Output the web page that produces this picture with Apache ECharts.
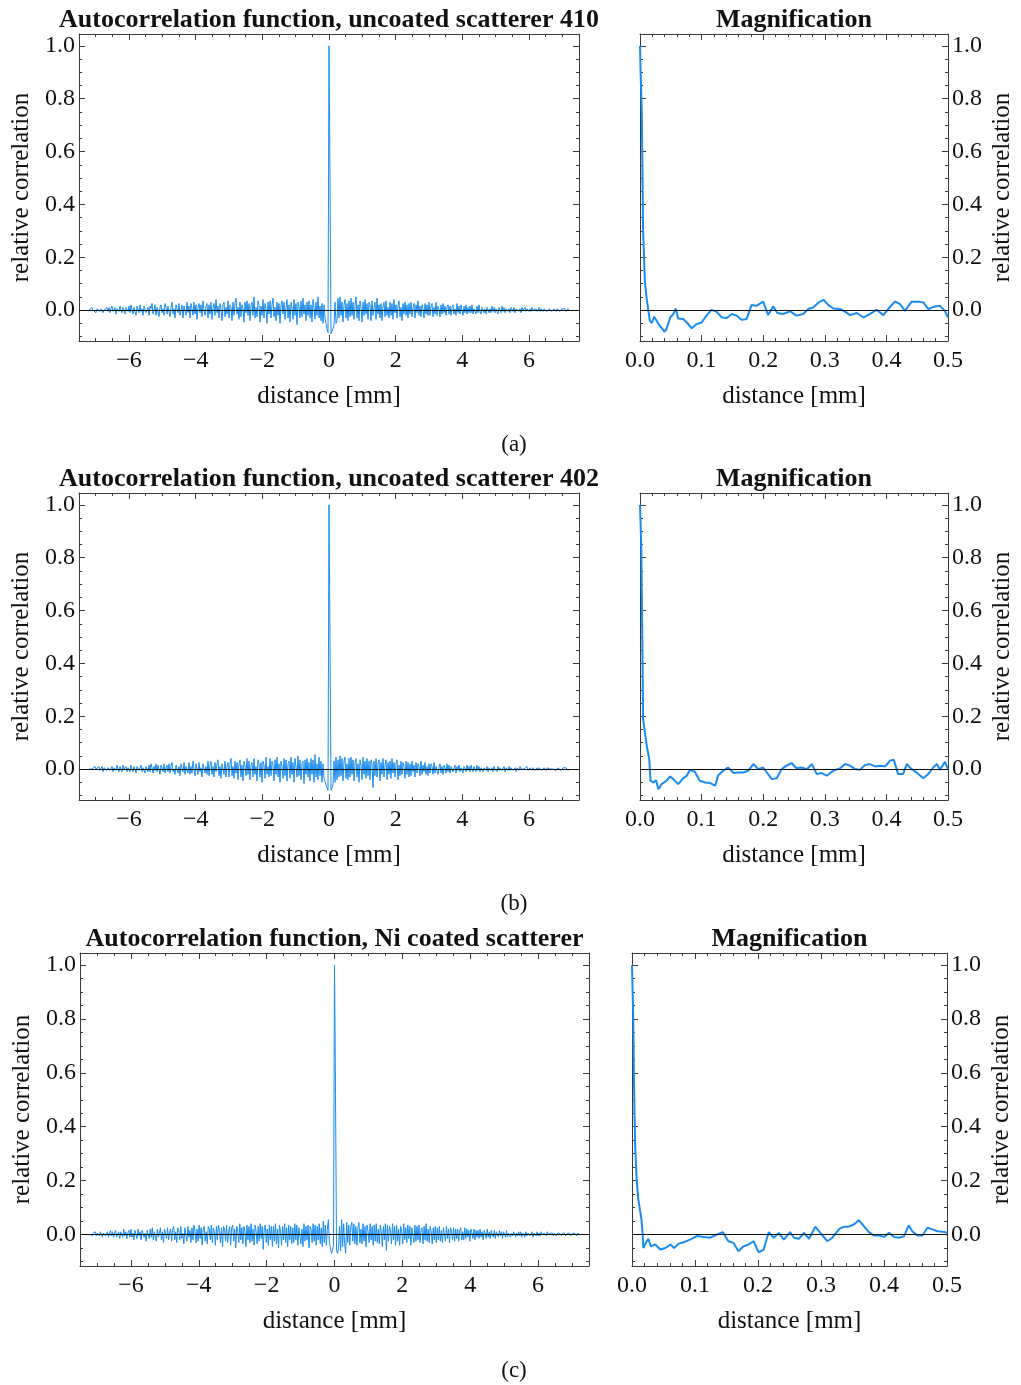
<!DOCTYPE html>
<html>
<head>
<meta charset="utf-8">
<script src="https://cdn.jsdelivr.net/npm/echarts@6/dist/echarts.min.js"></script>
<style>
html,body{margin:0;padding:0;background:#fff;}
#chart{width:1021px;height:1385px;}
</style>
</head>
<body>
<div id="chart"></div>
<script>
// ---------------- DATA ----------------
const acfStep = 0.03;     // sample spacing of the full autocorrelation [mm]
const acfPeak = 1.0;      // value at distance 0

// uncoated scatterer 410 : negative side (x = -7.2 ... -0.03), positive side (x = 0.03 ... 7.2)
const acfANeg = [
 .00,.005,-.005,.01,0,-.005,.005,-.01,.005,0,.01,-.005,.005,.01,-.01,0,.005,-.005,.01,-.005,
 .01,-.01,.005,.015,-.005,0,.01,-.015,.005,.01,-.005,.015,0,-.01,.01,.005,-.015,.01,.015,-.005,
 .015,-.01,.02,0,-.015,.01,.005,-.02,.015,.01,-.01,.02,-.005,.005,-.02,.015,.02,-.01,0,.01,
 -.02,.015,.005,.025,-.015,0,.02,-.02,.01,.015,-.025,.01,.02,-.01,.005,-.02,.025,.01,-.015,.015,
 .02,-.025,.01,.03,-.015,.005,-.03,.02,.015,-.01,.025,-.02,0,.02,-.03,.015,.01,-.02,.03,-.01,
 .015,-.03,.025,.005,-.02,.03,-.015,.02,-.035,.01,.025,-.01,.02,-.025,.035,0,-.02,.015,.025,-.03,
 .02,-.015,.03,-.035,.01,.025,-.02,.04,-.01,.015,-.03,.025,.005,-.04,.02,.03,-.025,.01,-.015,.035,
 -.03,.02,.01,-.04,.03,-.02,.025,.045,-.015,.01,-.035,.03,-.025,.02,.005,-.045,.03,-.01,.035,-.02,
 .025,-.04,.015,.03,-.02,.05,-.03,.01,-.025,.035,.02,-.045,.015,-.02,.04,-.03,.025,.005,-.05,.03,
 -.015,.035,-.03,.02,.045,-.025,.01,-.04,.03,-.02,.025,-.05,.02,.035,-.015,.03,-.035,.01,.04,-.03,
 .02,-.045,.03,.01,-.035,.04,-.02,.025,-.055,.03,.015,-.03,.035,-.025,.045,-.015,.02,-.04,.03,-.02,
 .035,-.03,.02,-.045,.04,.01,-.035,.03,-.02,.05,-.03,.015,-.04,.025,-.05,.02,-.03,-.05,-.07,-.085
];
const acfAPos = [
 .5,-.09,-.08,-.07,-.06,.03,-.05,-.04,.045,-.03,.05,-.02,.03,-.045,.02,.04,-.03,.025,-.04,.035,
 -.025,.045,-.02,.03,-.035,.015,.05,-.03,.02,-.04,.035,.01,-.045,.03,-.02,.04,-.015,.025,-.035,.03,
 .02,-.04,.035,-.02,.01,.03,-.035,.045,-.015,.02,-.03,.025,-.04,.015,.03,-.025,.035,-.02,.01,-.03,
 .03,-.02,.025,-.035,.04,-.01,.02,-.03,.015,.035,-.025,.01,-.04,.025,-.015,.03,-.02,.02,-.03,.025,
 -.015,.03,-.025,.01,.025,-.03,.02,-.01,.035,-.02,.015,-.025,.02,.005,-.03,.025,-.015,.02,-.02,.03,
 -.02,.015,.025,-.025,.01,-.015,.03,-.02,.015,.005,-.025,.02,-.015,.025,-.01,.015,-.02,.01,.02,-.015,
 .015,-.02,.01,.02,-.015,.005,-.02,.025,-.01,.015,-.015,.02,0,-.02,.015,-.01,.02,-.015,.01,-.01,
 .015,-.01,.02,-.015,.005,.01,-.015,.015,-.01,.02,-.005,-.015,.01,.015,-.01,.005,-.015,.01,.015,-.01,
 .005,-.01,.015,-.005,.01,-.01,.005,.01,-.015,.01,0,-.01,.015,-.005,.01,-.01,.005,.01,-.005,.005,
 -.01,.01,.005,-.005,.01,-.01,.005,0,.01,-.005,.005,-.01,.01,0,-.005,.01,-.005,.005,.005,-.005,
 .005,-.005,.01,0,-.005,.005,.005,-.005,0,.01,-.005,.005,0,-.005,.005,0,.005,-.005,0,.005,
 0,.005,-.005,0,.005,0,-.005,.005,0,.005,-.005,0,.005,0,0,.005,-.005,0,.005,0
];

// uncoated scatterer 402
const acfBNeg = [
 0,-.005,.005,0,.005,-.005,.01,0,-.005,.005,.01,-.005,0,.01,-.01,.005,0,.01,-.005,.005,
 .01,-.005,0,.01,-.01,.005,.01,-.005,.015,0,-.01,.01,.005,-.01,.015,0,-.005,.01,-.01,.005,
 .01,-.01,.015,0,-.01,.01,.005,-.015,.01,.015,-.005,0,.015,-.01,.005,.01,-.015,.01,0,-.01,
 .015,-.01,.02,.005,-.015,.01,-.005,.02,-.01,.015,0,-.02,.015,.01,-.01,.02,-.015,.005,.015,-.01,
 .02,-.015,.01,.025,-.01,0,-.02,.015,.02,-.015,.01,-.025,.02,.005,-.01,.025,-.02,.01,.015,-.015,
 .025,-.02,.01,-.015,.03,0,-.025,.02,.015,-.02,.025,-.01,.005,-.03,.02,.025,-.015,.01,-.02,.03,
 -.025,.015,.03,-.02,.01,-.03,.025,-.01,.02,.035,-.025,.01,-.035,.02,.015,-.02,.03,-.03,.01,.025,
 -.03,.02,.04,-.025,.01,-.035,.03,-.015,.025,-.04,.02,.035,-.03,.015,-.045,.03,.01,-.025,.04,-.02,
 .03,-.04,.015,.025,-.03,.04,-.02,.01,-.045,.035,.02,-.03,.025,-.05,.03,.015,-.035,.045,-.02,.01,
 -.03,.04,-.025,.03,.015,-.045,.035,-.02,.045,-.03,.02,-.05,.03,.01,-.035,.04,-.025,.035,-.045,.02,
 .03,-.035,.045,-.02,.025,-.05,.04,.01,-.03,.05,-.025,.035,-.04,.02,.03,-.055,.035,-.02,.04,-.03,
 .025,-.045,.04,-.02,.035,-.05,.055,-.03,.02,-.04,.045,-.025,.03,-.05,.02,-.035,-.04,-.06,-.07,-.08
];
const acfBPos = [
 .48,-.08,-.075,-.06,.03,-.05,.045,-.04,.035,-.03,.05,-.025,.04,-.045,.03,.045,-.035,.02,-.04,.04,
 -.03,.045,-.02,.035,-.045,.025,.04,-.03,.02,-.05,.035,.015,-.04,.045,-.02,.03,-.035,.04,-.025,.03,
 -.04,.035,.02,-.07,.03,-.025,.04,-.03,.02,.035,-.045,.025,-.02,.04,-.03,.015,.035,-.04,.025,-.02,
 .03,-.035,.04,-.015,.025,-.03,.02,.035,-.04,.015,-.025,.03,-.02,.025,.01,-.035,.03,-.02,.025,-.03,
 .02,-.025,.03,-.01,.015,-.03,.025,-.015,.02,.01,-.025,.03,-.02,.015,-.01,.025,-.02,.01,-.025,.02,
 -.015,.02,.01,-.02,.025,-.015,.01,.015,-.02,.005,.02,-.015,.01,-.02,.015,.005,-.015,.02,-.01,.015,
 -.015,.01,.015,-.01,.005,.015,-.015,.01,-.005,.015,-.01,.005,.01,-.015,.01,0,-.01,.015,-.005,.01,
 -.01,.015,0,-.01,.01,.005,-.01,.015,-.005,.01,-.01,.005,.01,-.01,.005,.01,-.005,.01,-.01,.005,
 .01,-.005,.005,-.01,.01,0,.005,-.01,.01,-.005,.005,.01,-.005,0,.01,-.01,.005,.005,-.005,.01,
 -.005,.005,.01,-.005,0,.005,-.01,.005,.005,-.005,.01,0,-.005,.005,0,.005,-.005,.01,-.005,0,
 .005,0,-.005,.005,.005,-.005,0,.005,-.005,.005,0,.005,-.005,0,.005,0,-.005,.005,0,.005,
 0,-.005,.005,0,.005,0,-.005,0,.005,0,.005,-.005,0,.005,0,0,.005,0,-.005,0
];

// Ni coated scatterer
const acfCNeg = [
 0,.005,-.005,.005,0,.01,-.005,.005,0,-.005,.01,.005,-.01,.005,.01,-.005,0,.01,-.01,.005,
 .015,-.005,.01,-.01,.005,.015,-.01,0,.01,-.015,.01,.005,-.01,.02,-.005,.01,-.015,.005,.015,-.01,
 .02,-.01,.005,-.02,.015,.01,-.015,.02,-.005,.01,-.02,.015,.02,-.01,.005,-.025,.015,.01,-.015,.02,
 -.01,.025,-.02,.01,.015,-.025,.02,-.01,.005,.025,-.02,.01,-.03,.02,.015,-.015,.025,-.02,.01,.02,
 -.025,.015,.03,-.02,.01,-.03,.025,.015,-.02,.03,-.015,.005,-.035,.025,.02,-.025,.03,-.01,.015,-.03,
 .025,-.02,.035,.01,-.03,.02,-.025,.035,-.015,.025,-.04,.02,.03,-.025,.01,-.035,.03,.02,-.02,.035,
 -.03,.025,.01,-.04,.03,-.02,.035,.015,-.03,.025,-.045,.03,.02,-.025,.035,-.03,.01,.03,-.04,.025,
 .035,-.025,.02,-.05,.03,.015,-.03,.04,-.02,.025,-.035,.03,.01,-.045,.035,-.02,.03,-.03,.04,-.025,
 .02,-.04,.035,.01,-.035,.03,-.025,.04,-.015,.03,-.055,.025,.035,-.03,.02,-.04,.035,-.02,.03,-.045,
 .03,-.025,.04,-.035,.02,-.05,.035,.01,-.04,.03,-.02,.04,-.03,.025,-.045,.035,-.02,.03,-.035,.025,
 -.03,.04,-.02,.035,-.04,.025,.03,-.035,.02,-.045,.04,-.025,.03,-.02,.035,-.05,.03,.02,-.03,.04,
 -.025,.035,-.04,.03,-.02,.04,-.035,.025,-.045,.05,-.03,.035,-.04,.02,.055,-.03,-.05,-.07,-.06,-.04
];
const acfCPos = [
 .52,-.06,-.07,-.05,.03,-.06,.055,-.045,.04,-.035,-.07,.045,-.03,.035,-.04,.03,.045,-.025,.04,-.035,
 .03,-.04,.025,.045,-.03,.02,-.035,.04,-.025,.03,-.045,.035,.01,-.03,.04,-.02,.03,-.04,.035,-.025,
 .04,-.03,.02,-.035,.035,.01,-.045,.03,-.02,.04,-.06,.035,-.025,.03,.015,-.035,.04,-.02,.03,-.04,
 .035,-.025,.02,-.04,.03,.01,-.035,.04,-.02,.025,-.03,.035,-.015,.03,-.04,.025,.02,-.03,.035,-.025,
 .03,-.02,.035,-.03,.015,.025,-.035,.03,-.02,.04,-.025,.02,-.03,.03,.01,-.035,.025,-.02,.03,-.03,
 .025,-.02,.03,-.025,.015,-.03,.025,.02,-.025,.03,-.015,.02,-.03,.025,.01,-.02,.025,-.025,.02,-.015,
 .02,-.025,.015,.025,-.02,.01,-.02,.025,-.015,.02,-.01,.015,-.025,.02,.005,-.015,.02,-.02,.015,-.01,
 .015,-.015,.02,-.01,.01,-.02,.015,.005,-.015,.02,-.01,.01,-.015,.015,0,-.01,.015,-.015,.01,.005,
 -.01,.015,-.005,.01,-.015,.01,.005,-.01,.015,-.01,.005,.01,-.01,.005,-.005,.01,.01,-.01,.005,-.005,
 .01,-.005,.01,-.01,.005,.005,-.01,.01,-.005,.005,.01,-.005,0,.01,-.01,.005,.005,-.005,.01,-.005,
 .005,-.005,.01,0,-.005,.005,.005,-.005,.01,0,-.005,.005,0,.005,-.005,.005,0,-.005,.005,0,
 .005,0,-.005,.005,0,.005,-.005,0,.005,0,.005,-.005,0,.005,0,.005,0,-.005,.005,0
];

// magnification (x in mm, relative correlation)
const magA = [
 [0,1.0],[0.001,0.90],[0.003,0.74],[0.004,0.53],[0.005,0.30],[0.008,0.105],[0.011,0.04],[0.0135,0.0],
 [0.016,-0.040],[0.019,-0.049],[0.023,-0.025],[0.027,-0.040],[0.032,-0.059],[0.040,-0.082],[0.043,-0.072],
 [0.049,-0.028],[0.054,-0.015],[0.058,0.006],[0.062,-0.032],[0.070,-0.034],[0.076,-0.047],[0.084,-0.069],
 [0.092,-0.053],[0.100,-0.047],[0.108,-0.021],[0.116,0.001],[0.124,-0.006],[0.133,-0.028],[0.141,-0.030],
 [0.149,-0.015],[0.157,-0.021],[0.165,-0.037],[0.173,-0.034],[0.181,0.019],[0.189,0.016],[0.200,0.032],
 [0.208,-0.019],[0.216,0.014],[0.223,-0.011],[0.232,-0.015],[0.244,-0.005],[0.254,-0.021],[0.265,-0.015],
 [0.273,0.004],[0.281,0.010],[0.290,0.029],[0.298,0.039],[0.306,0.019],[0.314,0.006],[0.325,0.004],
 [0.333,-0.006],[0.341,-0.019],[0.352,-0.011],[0.363,-0.028],[0.373,-0.015],[0.384,0.001],[0.395,-0.019],
 [0.403,0.004],[0.414,0.033],[0.422,0.023],[0.430,-0.003],[0.441,0.032],[0.452,0.032],[0.460,0.029],
 [0.468,0.004],[0.479,0.014],[0.487,0.016],[0.495,-0.003],[0.500,-0.028]
];
const magB = [
 [0,1.0],[0.002,0.85],[0.003,0.65],[0.004,0.45],[0.005,0.19],[0.011,0.088],[0.015,0.038],[0.017,-0.044],
 [0.022,-0.051],[0.026,-0.042],[0.030,-0.076],[0.035,-0.057],[0.043,-0.044],[0.049,-0.028],[0.054,-0.038],
 [0.062,-0.057],[0.070,-0.035],[0.076,-0.025],[0.081,-0.003],[0.089,-0.010],[0.097,-0.044],[0.106,-0.051],
 [0.114,-0.053],[0.122,-0.063],[0.127,-0.023],[0.135,-0.006],[0.143,0.006],[0.152,-0.015],[0.160,-0.013],
 [0.168,-0.013],[0.176,-0.006],[0.184,0.019],[0.192,0],[0.200,0.006],[0.206,-0.013],[0.214,-0.038],
 [0.222,-0.035],[0.230,0],[0.238,0.013],[0.246,0.023],[0.254,0.003],[0.262,0.006],[0.271,0],[0.279,0.019],
 [0.287,-0.019],[0.295,-0.015],[0.303,-0.025],[0.314,-0.006],[0.325,0.003],[0.333,0.019],[0.341,0.013],
 [0.349,0],[0.357,-0.003],[0.365,0.015],[0.373,0.019],[0.382,0.010],[0.390,0.013],[0.398,0.010],
 [0.406,0.032],[0.412,0.035],[0.419,-0.019],[0.427,-0.019],[0.433,0.019],[0.441,0],[0.449,-0.013],
 [0.460,-0.035],[0.468,-0.019],[0.476,0.006],[0.482,0.019],[0.487,-0.003],[0.495,0.028],[0.500,0]
];
const magC = [
 [0,1.0],[0.002,0.8],[0.003,0.6],[0.004,0.45],[0.005,0.33],[0.0074,0.205],[0.010,0.13],[0.015,0.056],
 [0.017,0],[0.018,-0.050],[0.022,-0.031],[0.026,-0.016],[0.030,-0.044],[0.037,-0.037],[0.045,-0.056],
 [0.053,-0.050],[0.061,-0.037],[0.067,-0.050],[0.074,-0.034],[0.082,-0.029],[0.092,-0.019],[0.103,-0.006],
 [0.114,-0.009],[0.124,-0.012],[0.135,0],[0.144,0.009],[0.153,-0.025],[0.161,-0.031],[0.169,-0.062],
 [0.177,-0.044],[0.185,-0.037],[0.193,-0.025],[0.201,-0.066],[0.209,-0.056],[0.217,0.009],[0.225,-0.012],
 [0.233,0.006],[0.241,-0.019],[0.251,0.009],[0.257,-0.012],[0.265,-0.016],[0.273,0.006],[0.281,-0.016],
 [0.291,0.029],[0.299,0.006],[0.310,-0.025],[0.318,-0.012],[0.329,0.021],[0.337,0.029],[0.344,0.029],
 [0.352,0.037],[0.360,0.053],[0.368,0.031],[0.376,0.009],[0.384,-0.004],[0.392,-0.004],[0.400,-0.009],
 [0.408,0.006],[0.416,-0.009],[0.424,-0.012],[0.432,-0.006],[0.439,0.034],[0.445,0.012],[0.453,-0.004],
 [0.461,-0.004],[0.469,0.025],[0.477,0.019],[0.485,0.012],[0.496,0.009],[0.500,0.006]
];

const leftXTicks = [-6, -4, -2, 0, 2, 4, 6];
const magXTicks = [0, 0.1, 0.2, 0.3, 0.4, 0.5];
const yTicks = [0, 0.2, 0.4, 0.6, 0.8, 1.0];

const leftTitles = [
  'Autocorrelation function, uncoated scatterer 410',
  'Autocorrelation function, uncoated scatterer 402',
  'Autocorrelation function, Ni coated scatterer'
];
const rightTitle = 'Magnification';
const captions = ['(a)', '(b)', '(c)'];
const xName = 'distance [mm]';
const yName = 'relative correlation';

// ---------------- LAYOUT / STYLE ----------------
const FONT = '"Liberation Serif", "Times New Roman", serif';
const FRAME = '#3a3a3a';
const BLUE = '#1a8cf0';
const Y_MIN = -0.117, Y_MAX = 1.045;

const panels = [
  {box: [79, 34, 500, 307],  kind: 'full', neg: acfANeg, pos: acfAPos},
  {box: [640, 34, 308, 307], kind: 'mag',  data: magA},
  {box: [79, 493, 500, 307], kind: 'full', neg: acfBNeg, pos: acfBPos},
  {box: [640, 493, 308, 307],kind: 'mag',  data: magB},
  {box: [80, 953, 509, 313], kind: 'full', neg: acfCNeg, pos: acfCPos},
  {box: [632, 953, 315, 313],kind: 'mag',  data: magC}
];

// the full ACF: negative-side samples end just left of 0, then the peak, then positive side
function acfPairs(neg, pos) {
  const out = [];
  neg.forEach((v, j) => out.push([+(-(neg.length - j) * acfStep).toFixed(3), v]));
  out.push([0, acfPeak]);
  pos.forEach((v, j) => out.push([+((j + 1) * acfStep).toFixed(3), v]));
  return out;
}
function minorVals(min, max, step, majors) {
  const out = [];
  const n0 = Math.ceil(min / step - 1e-9), n1 = Math.floor(max / step + 1e-9);
  for (let k = n0; k <= n1; k++) {
    const v = +(k * step).toFixed(4);
    if (v <= min + 1e-9 || v >= max - 1e-9) continue;
    if (majors.some(m => Math.abs(m - v) < 1e-9)) continue;
    out.push(v);
  }
  return out;
}
const minusFmt = v => (v < 0 ? '\u2212' + Math.abs(v) : String(v));

const grids = [], xAxes = [], yAxes = [], series = [], graphics = [];

panels.forEach((p, gi) => {
  const [l, t, w, h] = p.box;
  grids.push({left: l, top: t, width: w, height: h, containLabel: false, outerBoundsMode: 'none', show: false});
  const full = p.kind === 'full';
  const xMin = full ? -7.5 : 0, xMax = full ? 7.5 : 0.5;
  const xMaj = full ? leftXTicks : magXTicks;
  const xMin2 = minorVals(xMin, xMax, full ? 0.5 : 0.02, xMaj);
  const yMin2 = minorVals(Y_MIN, Y_MAX, 0.05, yTicks);
  const xFmt = full ? minusFmt : (v => v.toFixed(1));

  const baseX = {gridIndex: gi, type: 'value', min: xMin, max: xMax, splitLine: {show: false}};
  const labelStyle = {color: '#111', fontFamily: FONT, fontSize: 24};
  const nameStyle = {color: '#111', fontFamily: FONT, fontSize: 25};

  const xBase = xAxes.length;
  xAxes.push(Object.assign({}, baseX, {
    position: 'bottom',
    axisLine: {show: true, onZero: false, lineStyle: {color: FRAME, width: 1}},
    axisTick: {show: true, inside: true, length: 6, customValues: xMaj, lineStyle: {color: FRAME}},
    axisLabel: Object.assign({show: true, customValues: xMaj, formatter: xFmt, margin: 8}, labelStyle),
    name: xName, nameLocation: 'middle', nameGap: 43, nameTextStyle: nameStyle
  }));
  xAxes.push(Object.assign({}, baseX, {
    position: 'bottom', axisLine: {show: false, onZero: false},
    axisTick: {show: true, inside: true, length: 3, customValues: xMin2, lineStyle: {color: FRAME}},
    axisLabel: {show: false}
  }));
  xAxes.push(Object.assign({}, baseX, {
    position: 'top',
    axisLine: {show: true, onZero: false, lineStyle: {color: FRAME, width: 1}},
    axisTick: {show: true, inside: true, length: 6, customValues: xMaj, lineStyle: {color: FRAME}},
    axisLabel: {show: false}
  }));
  xAxes.push(Object.assign({}, baseX, {
    position: 'top', axisLine: {show: false, onZero: false},
    axisTick: {show: true, inside: true, length: 3, customValues: xMin2, lineStyle: {color: FRAME}},
    axisLabel: {show: false}
  }));

  const labelSide = full ? 'left' : 'right';
  const otherSide = full ? 'right' : 'left';
  const baseY = {gridIndex: gi, type: 'value', min: Y_MIN, max: Y_MAX, splitLine: {show: false}};
  const yBase = yAxes.length;
  yAxes.push(Object.assign({}, baseY, {
    position: labelSide,
    axisLine: {show: true, onZero: false, lineStyle: {color: FRAME, width: 1}},
    axisTick: {show: true, inside: true, length: 6, customValues: yTicks, lineStyle: {color: FRAME}},
    axisLabel: Object.assign({show: true, customValues: yTicks, formatter: v => v.toFixed(1), margin: 4}, labelStyle),
    name: yName, nameLocation: 'middle', nameRotate: 90, nameGap: full ? 45 : 42, nameTextStyle: nameStyle
  }));
  yAxes.push(Object.assign({}, baseY, {
    position: labelSide, axisLine: {show: false, onZero: false},
    axisTick: {show: true, inside: true, length: 3, customValues: yMin2, lineStyle: {color: FRAME}},
    axisLabel: {show: false}
  }));
  yAxes.push(Object.assign({}, baseY, {
    position: otherSide,
    axisLine: {show: true, onZero: false, lineStyle: {color: FRAME, width: 1}},
    axisTick: {show: true, inside: true, length: 6, customValues: yTicks, lineStyle: {color: FRAME}},
    axisLabel: {show: false}
  }));
  yAxes.push(Object.assign({}, baseY, {
    position: otherSide, axisLine: {show: false, onZero: false},
    axisTick: {show: true, inside: true, length: 3, customValues: yMin2, lineStyle: {color: FRAME}},
    axisLabel: {show: false}
  }));

  series.push({
    type: 'line',
    xAxisIndex: xBase, yAxisIndex: yBase,
    data: full ? acfPairs(p.neg, p.pos) : p.data,
    showSymbol: false, symbol: 'none',
    lineStyle: {color: BLUE, width: full ? 1 : 2},
    itemStyle: {color: BLUE},
    clip: true,
    animation: false,
    z: 2,
    markLine: {
      silent: true, symbol: ['none', 'none'], animation: false,
      label: {show: false},
      lineStyle: {color: '#111', width: 1, type: 'solid'},
      data: [{yAxis: 0}]
    }
  });

  const row = Math.floor(gi / 2);
  graphics.push({
    type: 'text', x: l + w / 2, y: t - 14,
    style: {text: full ? leftTitles[row] : rightTitle, fill: '#111',
      font: 'bold 26px ' + FONT, textAlign: 'center', align: 'center',
      textVerticalAlign: 'middle', verticalAlign: 'middle'}
  });
});

[445, 904, 1371].forEach((yy, i) => {
  graphics.push({
    type: 'text', x: 514, y: yy,
    style: {text: captions[i], fill: '#111', font: '23px ' + FONT,
      textAlign: 'center', align: 'center', textVerticalAlign: 'middle', verticalAlign: 'middle'}
  });
});

const chart = echarts.init(document.getElementById('chart'), null, {renderer: 'canvas'});
chart.setOption({
  animation: false,
  backgroundColor: '#fff',
  grid: grids,
  xAxis: xAxes,
  yAxis: yAxes,
  series: series,
  graphic: graphics
});
</script>
</body>
</html>
